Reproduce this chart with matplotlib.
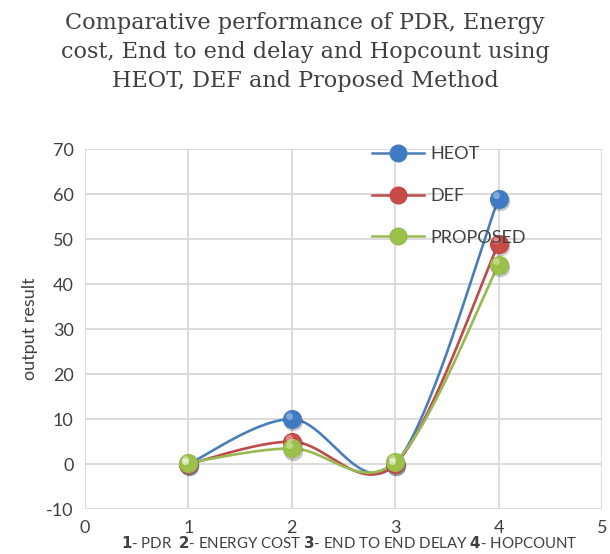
import numpy as np
import matplotlib
matplotlib.use("Agg")
import matplotlib.pyplot as plt
from matplotlib.lines import Line2D
from matplotlib.transforms import offset_copy

x_vals = [1, 2, 3, 4]
heot = [0.0, 10.0, 0.0, 59.0]
defm = [0.0, 5.0, 0.0, 49.0]
proposed = [0.3, 3.5, 0.5, 44.3]
series_names = ["HEOT", "DEF", "PROPOSED"]
line_colors = ["#4A7EBB", "#BE4B48", "#98B954"]
marker_colors = ["#3F7BC4", "#C94A47", "#9BC148"]

def smooth(xs, ys, n=60):
    P = np.column_stack([xs, ys]).astype(float)
    P = np.vstack([P[0], P, P[-1]])
    out = []
    for i in range(1, len(P) - 2):
        p0, p1, p2, p3 = P[i - 1], P[i], P[i + 1], P[i + 2]
        c1 = p1 + (p2 - p0) / 6.0
        c2 = p2 - (p3 - p1) / 6.0
        t = np.linspace(0, 1, n)[:, None]
        b = ((1 - t) ** 3) * p1 + 3 * ((1 - t) ** 2) * t * c1 + 3 * (1 - t) * t ** 2 * c2 + t ** 3 * p2
        out.append(b)
    B = np.vstack(out)
    return B[:, 0], B[:, 1]

plt.rcParams['font.family'] = ['Lato', 'DejaVu Sans']
plt.rcParams['axes.unicode_minus'] = False
fig = plt.figure(figsize=(6.10, 5.54), dpi=100)
ax = fig.add_axes([0.139, 0.081, 0.848, 0.650])

for ys, lc, mc in zip([heot, defm, proposed], line_colors, marker_colors):
    sx, sy = smooth(x_vals, ys)
    ax.plot(sx, sy, color=lc, lw=1.9, zorder=3)
shadow_tr = offset_copy(ax.transData, fig=fig, x=0.8, y=-1.6, units='points')
for ys, lc, mc in zip([heot, defm, proposed], line_colors, marker_colors):
    ax.plot(x_vals, ys, ls='none', marker='o', ms=14, mfc='black', mec='none', alpha=0.22,
            transform=shadow_tr, zorder=3.5)
    ax.plot(x_vals, ys, ls='none', marker='o', ms=13, mfc=mc, mec=lc, mew=0.8, zorder=4)
    ax.plot(np.array(x_vals) - 0.03, np.array(ys) + 0.8, ls='none', marker='o', ms=5,
            mfc='white', mec='none', alpha=0.35, zorder=5)

ax.set_xlim(0, 5)
ax.set_ylim(-10, 70)
ax.set_xticks(range(0, 6))
ax.set_yticks(range(-10, 71, 10))
ax.grid(True, color='#D9D9D9', lw=1.3)
ax.set_axisbelow(True)
for s in ax.spines.values():
    s.set_visible(False)
ax.tick_params(length=0, labelsize=13, colors='#404040', pad=8)
ax.set_ylabel("output result", fontsize=13, color='#404040', labelpad=6)

handles = [Line2D([0], [0], color=lc, lw=1.8, marker='o', ms=12, mfc=mc, mec=lc)
           for lc, mc in zip(line_colors, marker_colors)]
leg = fig.legend(handles, series_names, loc='upper left', bbox_to_anchor=(0.583, 0.765),
                 frameon=False, fontsize=13, labelspacing=1.42, handlelength=2.9,
                 handletextpad=0.35, labelcolor='#404040')

fig.text(0.5, 0.978, "Comparative performance of PDR, Energy\ncost, End to end delay and Hopcount using\nHEOT, DEF and Proposed Method",
         ha='center', va='top', fontsize=16.1, color='#404040', family='DejaVu Serif', linespacing=1.42)

fig.text(0.573, 0.006, r"$\bf{1}$- PDR  $\bf{2}$- ENERGY COST $\bf{3}$- END TO END DELAY $\bf{4}$- HOPCOUNT",
         ha='center', va='bottom', fontsize=10.8, color='#404040')

fig.savefig("out.png", dpi=100)
